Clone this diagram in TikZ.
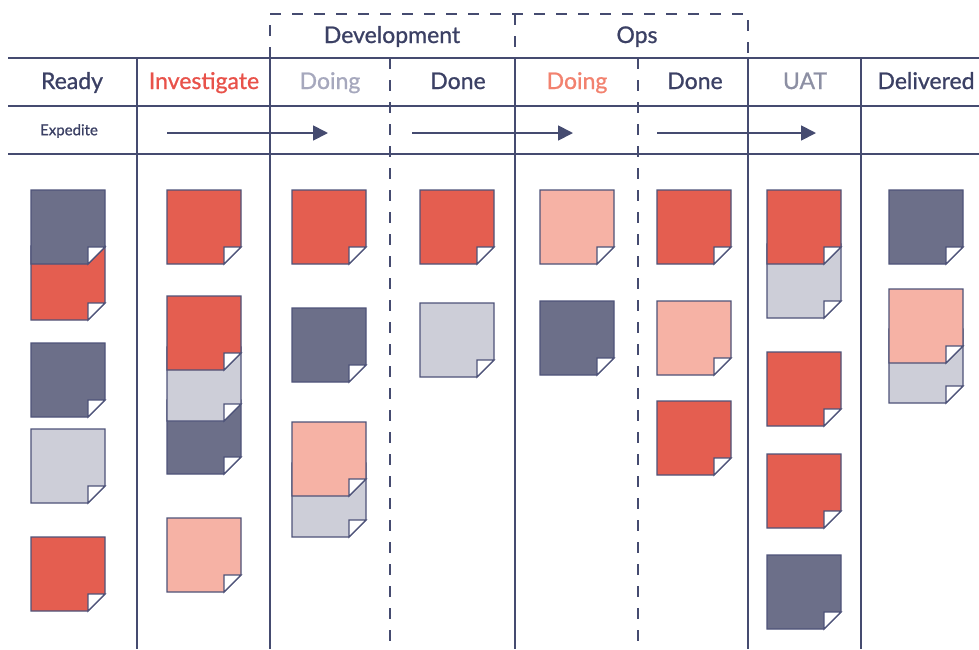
\documentclass[tikz,border=0pt]{standalone}
\usepackage{fontspec}
\setmainfont{Lato}
\newfontfamily\medfont{Lato}[FakeBold=0.9]
\usetikzlibrary{arrows.meta}
\definecolor{gridc}{HTML}{454B70}
\definecolor{notec}{HTML}{4E5379}
\definecolor{ndark}{HTML}{6C6F89}
\definecolor{nred}{HTML}{E45E50}
\definecolor{npink}{HTML}{F6B2A5}
\definecolor{ngray}{HTML}{CDCED8}
\definecolor{tdark}{HTML}{3B4064}
\definecolor{tred}{HTML}{E8524A}
\definecolor{tgray}{HTML}{A6A8BD}
\definecolor{tsalmon}{HTML}{F2826F}
\definecolor{tuat}{HTML}{8C8FA3}
\newcommand\stickynote[3]{%
  \draw[noteline, fill=#3] (#1,#2) -- ++(74,0) -- ++(0,57) -- ++(-17,17) -- ++(-57,0) -- cycle;
  \draw[noteline, fill=white] (#1+57,#2+74) -- ++(0,-17) -- ++(17,0) -- cycle;
}
\begin{document}
\begin{tikzpicture}[x=1pt,y=-1pt,
  gridline/.style={draw=gridc, line width=1.8pt},
  dashline/.style={draw=gridc, line width=1.8pt, dash pattern=on 11pt off 11pt},
  noteline/.style={draw=notec, line width=1.3pt, line join=miter},
  head/.style={font=\medfont\fontsize{23}{25}\selectfont, anchor=base},
  flow/.style={draw=gridc, line width=1.8pt, -{Triangle[length=15pt,width=15pt]}}]
\useasboundingbox (0,0) rectangle (979,649);
% horizontal grid
\foreach \yy in {58,106,154} \draw[gridline] (8,\yy) -- (979,\yy);
% vertical solid
\foreach \xx in {137,270,515,748,861} \draw[gridline] (\xx,58) -- (\xx,649);
% vertical dashed
\foreach \xx in {390,638} \draw[dashline] (\xx,58) -- (\xx,649);
% group box
\draw[dashline] (270,58) -- (270,14) -- (748,14) -- (748,58);
\draw[dashline] (515,14) -- (515,58);
% group labels
\node[head, text=tdark] (dev) at (392,43) {Development};
\node[head, text=tdark] (ops) at (637,43) {Ops};
% column heads
\node[head, text=tdark] (h1) at (72,89) {Ready};
\node[head, text=tred] (h2) at (204,89) {Investigate};
\node[head, text=tgray] (h3) at (330,89) {Doing};
\node[head, text=tdark] (h4) at (458,89) {Done};
\node[head, text=tsalmon] (h5) at (577,89) {Doing};
\node[head, text=tdark] (h6) at (695,89) {Done};
\node[head, text=tuat] (h7) at (805,89) {UAT};
\node[head, text=tdark] (h8) at (926,89) {Delivered};
\node[text=tdark, font=\medfont\fontsize{15}{17}\selectfont] (exp) at (69,131) {Expedite};
% arrows
\coordinate (a1s) at (167,133); \coordinate (a1e) at (328,133);
\coordinate (a2s) at (412,133); \coordinate (a2e) at (573,133);
\coordinate (a3s) at (657,133); \coordinate (a3e) at (816,133);
\draw[flow] (a1s) -- (a1e);
\draw[flow] (a2s) -- (a2e);
\draw[flow] (a3s) -- (a3e);
% Ready
\stickynote{31}{246}{nred}
\stickynote{31}{190}{ndark}
\stickynote{31}{343}{ndark}
\stickynote{31}{429}{ngray}
\stickynote{31}{537}{nred}
% Investigate
\stickynote{167}{400}{ndark}
\stickynote{167}{347}{ngray}
\stickynote{167}{190}{nred}
\stickynote{167}{296}{nred}
\stickynote{167}{518}{npink}
% Doing dev
\stickynote{292}{190}{nred}
\stickynote{292}{308}{ndark}
\stickynote{292}{463}{ngray}
\stickynote{292}{422}{npink}
% Done dev
\stickynote{420}{190}{nred}
\stickynote{420}{303}{ngray}
% Doing ops
\stickynote{540}{190}{npink}
\stickynote{540}{301}{ndark}
% Done ops
\stickynote{657}{190}{nred}
\stickynote{657}{301}{npink}
\stickynote{657}{401}{nred}
% UAT
\stickynote{767}{244}{ngray}
\stickynote{767}{190}{nred}
\stickynote{767}{352}{nred}
\stickynote{767}{454}{nred}
\stickynote{767}{555}{ndark}
% Delivered
\stickynote{889}{190}{ndark}
\stickynote{889}{329}{ngray}
\stickynote{889}{289}{npink}
\end{tikzpicture}
\end{document}
